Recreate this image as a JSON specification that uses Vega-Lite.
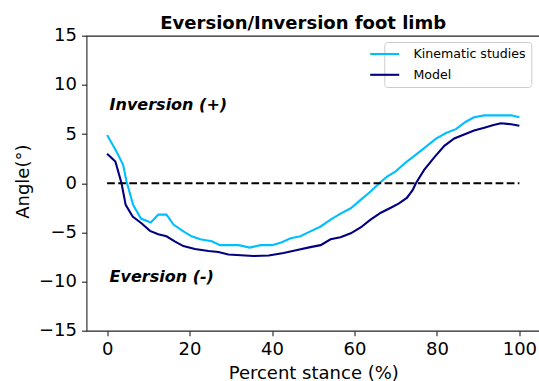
{
  "$schema": "https://vega.github.io/schema/vega-lite/v6.json",
  "autosize": "none",
  "width": 453.5,
  "height": 295,
  "padding": {"left": 86.5, "top": 35.7, "right": 0, "bottom": 50.3},
  "background": "white",
  "title": {
    "text": "Eversion/Inversion foot limb",
    "anchor": "middle",
    "frame": "group",
    "font": "DejaVu Sans",
    "fontSize": 18,
    "fontWeight": "bold",
    "color": "black",
    "baseline": "alphabetic",
    "offset": 7.4,
    "dx": -10,
    "dy": 28
  },
  "config": {
    "view": {"stroke": "#222", "strokeWidth": 1.1},
    "font": "DejaVu Sans",
    "axis": {
      "domain": false,
      "grid": false,
      "tickSize": 5,
      "tickWidth": 1.1,
      "tickColor": "#222",
      "labelFont": "DejaVu Sans",
      "labelFontSize": 18,
      "labelColor": "black",
      "labelPadding": 5,
      "titleFont": "DejaVu Sans",
      "titleFontSize": 18,
      "titleFontWeight": "normal",
      "titleColor": "black"
    }
  },
  "datasets": {
    "curves": [
      {"pct": 0, "angle": 4.9, "series": "Kinematic studies"},
      {"pct": 2.3, "angle": 3.2, "series": "Kinematic studies"},
      {"pct": 3.9, "angle": 1.85, "series": "Kinematic studies"},
      {"pct": 4.7, "angle": 0.2, "series": "Kinematic studies"},
      {"pct": 6.3, "angle": -2.2, "series": "Kinematic studies"},
      {"pct": 8.2, "angle": -3.6, "series": "Kinematic studies"},
      {"pct": 10.6, "angle": -4.0, "series": "Kinematic studies"},
      {"pct": 12.4, "angle": -3.2, "series": "Kinematic studies"},
      {"pct": 14.4, "angle": -3.2, "series": "Kinematic studies"},
      {"pct": 16.1, "angle": -4.2, "series": "Kinematic studies"},
      {"pct": 18.5, "angle": -4.9, "series": "Kinematic studies"},
      {"pct": 20.5, "angle": -5.4, "series": "Kinematic studies"},
      {"pct": 22.6, "angle": -5.7, "series": "Kinematic studies"},
      {"pct": 25.4, "angle": -5.9, "series": "Kinematic studies"},
      {"pct": 27.4, "angle": -6.3, "series": "Kinematic studies"},
      {"pct": 31.9, "angle": -6.3, "series": "Kinematic studies"},
      {"pct": 34.6, "angle": -6.55, "series": "Kinematic studies"},
      {"pct": 37.2, "angle": -6.3, "series": "Kinematic studies"},
      {"pct": 40, "angle": -6.3, "series": "Kinematic studies"},
      {"pct": 42.4, "angle": -6.0, "series": "Kinematic studies"},
      {"pct": 44.5, "angle": -5.6, "series": "Kinematic studies"},
      {"pct": 46.9, "angle": -5.4, "series": "Kinematic studies"},
      {"pct": 49.3, "angle": -4.9, "series": "Kinematic studies"},
      {"pct": 51.8, "angle": -4.4, "series": "Kinematic studies"},
      {"pct": 54.2, "angle": -3.7, "series": "Kinematic studies"},
      {"pct": 56.6, "angle": -3.1, "series": "Kinematic studies"},
      {"pct": 59.1, "angle": -2.55, "series": "Kinematic studies"},
      {"pct": 61.5, "angle": -1.7, "series": "Kinematic studies"},
      {"pct": 63.9, "angle": -0.85, "series": "Kinematic studies"},
      {"pct": 66.4, "angle": 0.15, "series": "Kinematic studies"},
      {"pct": 68, "angle": 0.7, "series": "Kinematic studies"},
      {"pct": 70, "angle": 1.2, "series": "Kinematic studies"},
      {"pct": 72.4, "angle": 2.1, "series": "Kinematic studies"},
      {"pct": 74.9, "angle": 2.9, "series": "Kinematic studies"},
      {"pct": 77.3, "angle": 3.7, "series": "Kinematic studies"},
      {"pct": 79.7, "angle": 4.5, "series": "Kinematic studies"},
      {"pct": 82.2, "angle": 5.1, "series": "Kinematic studies"},
      {"pct": 84.6, "angle": 5.5, "series": "Kinematic studies"},
      {"pct": 87, "angle": 6.25, "series": "Kinematic studies"},
      {"pct": 89, "angle": 6.7, "series": "Kinematic studies"},
      {"pct": 91.5, "angle": 6.9, "series": "Kinematic studies"},
      {"pct": 98, "angle": 6.9, "series": "Kinematic studies"},
      {"pct": 100, "angle": 6.7, "series": "Kinematic studies"},
      {"pct": 0, "angle": 3.0, "series": "Model"},
      {"pct": 2, "angle": 2.2, "series": "Model"},
      {"pct": 3.5, "angle": 0, "series": "Model"},
      {"pct": 4.5, "angle": -2.2, "series": "Model"},
      {"pct": 6.2, "angle": -3.4, "series": "Model"},
      {"pct": 8.4, "angle": -4.1, "series": "Model"},
      {"pct": 10.4, "angle": -4.85, "series": "Model"},
      {"pct": 12.4, "angle": -5.2, "series": "Model"},
      {"pct": 14.4, "angle": -5.4, "series": "Model"},
      {"pct": 16.5, "angle": -5.95, "series": "Model"},
      {"pct": 18.5, "angle": -6.4, "series": "Model"},
      {"pct": 21.3, "angle": -6.7, "series": "Model"},
      {"pct": 24.6, "angle": -6.9, "series": "Model"},
      {"pct": 27, "angle": -7.0, "series": "Model"},
      {"pct": 29.4, "angle": -7.25, "series": "Model"},
      {"pct": 35.5, "angle": -7.4, "series": "Model"},
      {"pct": 39.2, "angle": -7.35, "series": "Model"},
      {"pct": 42.8, "angle": -7.1, "series": "Model"},
      {"pct": 46.1, "angle": -6.8, "series": "Model"},
      {"pct": 49.3, "angle": -6.5, "series": "Model"},
      {"pct": 51.8, "angle": -6.3, "series": "Model"},
      {"pct": 54.2, "angle": -5.7, "series": "Model"},
      {"pct": 56.6, "angle": -5.5, "series": "Model"},
      {"pct": 59.1, "angle": -5.1, "series": "Model"},
      {"pct": 61.5, "angle": -4.5, "series": "Model"},
      {"pct": 63.9, "angle": -3.7, "series": "Model"},
      {"pct": 66.4, "angle": -3.0, "series": "Model"},
      {"pct": 68.8, "angle": -2.5, "series": "Model"},
      {"pct": 70.8, "angle": -2.05, "series": "Model"},
      {"pct": 72.7, "angle": -1.5, "series": "Model"},
      {"pct": 74.1, "angle": -0.7, "series": "Model"},
      {"pct": 74.9, "angle": 0, "series": "Model"},
      {"pct": 76.9, "angle": 1.35, "series": "Model"},
      {"pct": 79.3, "angle": 2.6, "series": "Model"},
      {"pct": 81.8, "angle": 3.8, "series": "Model"},
      {"pct": 84.2, "angle": 4.55, "series": "Model"},
      {"pct": 86.6, "angle": 4.95, "series": "Model"},
      {"pct": 89, "angle": 5.35, "series": "Model"},
      {"pct": 91.5, "angle": 5.65, "series": "Model"},
      {"pct": 93.5, "angle": 5.9, "series": "Model"},
      {"pct": 95.5, "angle": 6.1, "series": "Model"},
      {"pct": 98, "angle": 6.0, "series": "Model"},
      {"pct": 100, "angle": 5.85, "series": "Model"}
    ],
    "zero": [
      {"pct": 0, "angle": 0},
      {"pct": 100, "angle": 0}
    ],
    "notes": [
      {"pct": 0.6, "angle": 8.0, "label": "Inversion (+)"},
      {"pct": 0.6, "angle": -9.5, "label": "Eversion (-)"}
    ]
  },
  "layer": [
    {
      "data": {"name": "curves"},
      "mark": {"type": "line", "strokeWidth": 2.1, "clip": true},
      "encoding": {
        "x": {
          "field": "pct", "type": "quantitative",
          "scale": {"domain": [-5, 105], "nice": false, "zero": false},
          "axis": {"values": [0, 20, 40, 60, 80, 100], "title": "Percent stance (%)", "titleY": 47.3, "titleBaseline": "alphabetic"}
        },
        "y": {
          "field": "angle", "type": "quantitative",
          "scale": {"domain": [-15, 15], "nice": false, "zero": false},
          "axis": {"values": [-15, -10, -5, 0, 5, 10, 15], "title": "Angle(°)", "titleX": -58.2, "titleY": 145.5, "titleAngle": -90, "titleAlign": "center", "titleBaseline": "alphabetic"}
        },
        "color": {
          "field": "series", "type": "nominal",
          "scale": {"domain": ["Kinematic studies", "Model"], "range": ["#00BFFF", "#000080"]},
          "legend": {
            "title": null,
            "orient": "none",
            "legendX": 297.8,
            "legendY": 6.3,
            "symbolType": "M-2.5,0L2.5,0",
            "symbolSize": 134.6,
            "symbolStrokeWidth": 2.1,
            "symbolOffset": -11.6,
            "labelFont": "DejaVu Sans",
            "labelFontSize": 12.6,
            "labelColor": "black",
            "labelOffset": 21.8,
            "rowPadding": 6.8,
            "padding": 5,
            "strokeColor": "#cccccc",
            "fillColor": "rgba(255,255,255,0.8)",
            "cornerRadius": 3
          }
        },
        "detail": {"field": "series"}
      }
    },
    {
      "data": {"name": "zero"},
      "mark": {"type": "line", "color": "black", "strokeWidth": 2.1, "strokeDash": [7.7, 3.4]},
      "encoding": {
        "x": {"field": "pct", "type": "quantitative"},
        "y": {"field": "angle", "type": "quantitative"}
      }
    },
    {
      "data": {"name": "notes"},
      "mark": {"type": "text", "align": "left", "baseline": "middle", "font": "DejaVu Sans", "fontSize": 16, "fontWeight": "bold", "fontStyle": "italic", "color": "black"},
      "encoding": {
        "x": {"field": "pct", "type": "quantitative"},
        "y": {"field": "angle", "type": "quantitative"},
        "text": {"field": "label"}
      }
    }
  ]
}
